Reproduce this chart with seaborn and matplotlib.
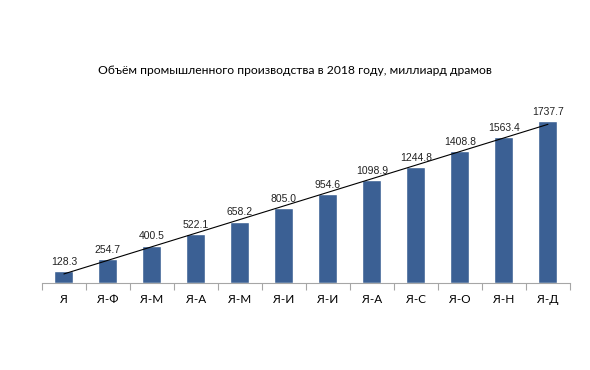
import numpy as np
import pandas as pd
import seaborn as sns
import matplotlib.pyplot as plt

# data
months = ["Я", "Я-Ф", "Я-М", "Я-А", "Я-М", "Я-И", "Я-И", "Я-А", "Я-С", "Я-О", "Я-Н", "Я-Д"]
volume = [128.3, 254.7, 400.5, 522.1, 658.2, 805.0, 954.6, 1098.9, 1244.8, 1408.8, 1563.4, 1737.7]
title = "Объём промышленного производства в 2018 году, миллиард драмов"

sns.set_style("white")
plt.rcParams['font.family'] = ['Lato', 'DejaVu Sans']

df = pd.DataFrame({"pos": range(len(months)), "volume": volume})

fig = plt.figure(figsize=(5.9, 3.7), dpi=100)
ax = fig.add_axes([0.071, 0.235, 0.895, 0.495])
sns.barplot(data=df, x="pos", y="volume", color="#3b6094", saturation=1,
            width=0.43, ax=ax)

# linear trend line like the Excel one
k, b = np.polyfit(df["pos"], df["volume"], 1)
xs = np.array([0, len(months) - 1])
ax.plot(xs, k * xs + b, color="black", lw=0.8)

ax.bar_label(ax.containers[0], labels=[f"{v:.1f}" for v in volume], padding=3,
             fontsize=7.5, family="Liberation Sans", color="#222222")

ax.set_xlim(-0.5, len(months) - 0.5)
ax.set_ylim(0, 1960)
ax.set_xticks(range(len(months)))
ax.set_xticklabels(months, fontsize=8.5, color="black")
ax.set_xticks(np.arange(-0.5, len(months)), minor=True)
ax.tick_params(axis="x", which="major", length=0, pad=8)
ax.tick_params(axis="x", which="minor", length=5, color="#a6a6a6", width=0.8, bottom=True)
ax.set_yticks([])
ax.set_xlabel("")
ax.set_ylabel("")
for s in ["top", "right", "left"]:
    ax.spines[s].set_visible(False)
ax.spines["bottom"].set_color("#a6a6a6")
ax.spines["bottom"].set_linewidth(0.8)

fig.text(0.5, 0.81, title, ha="center", va="center", fontsize=8.7, color="black")

fig.savefig("out.png", dpi=100)
